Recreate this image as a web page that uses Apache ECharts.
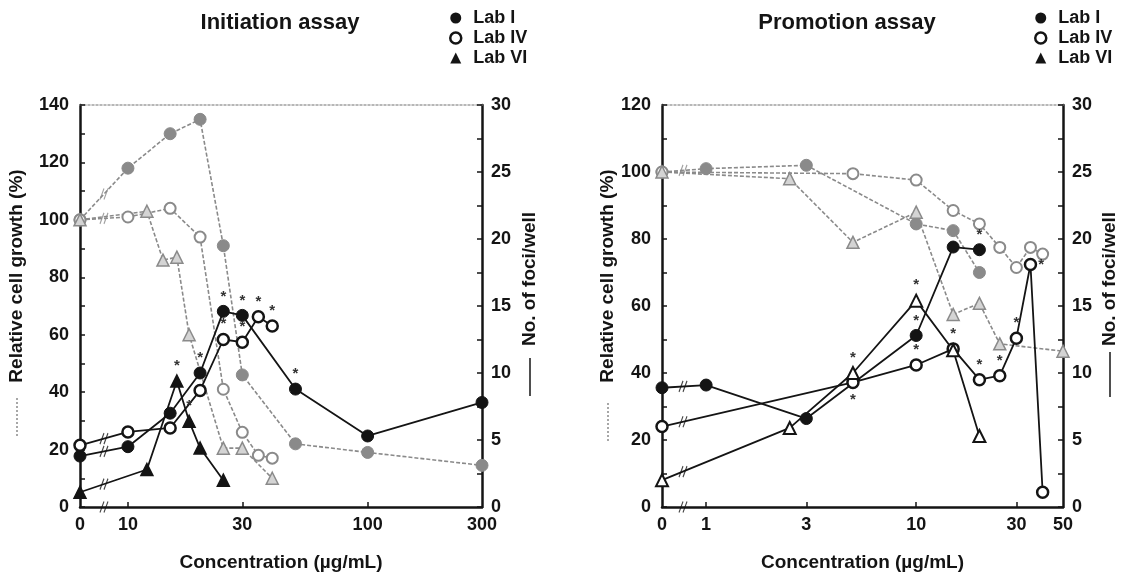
<!DOCTYPE html>
<html>
<head>
<meta charset="utf-8">
<script src="https://cdn.jsdelivr.net/npm/echarts@6/dist/echarts.min.js"></script>
<style>
  html, body { margin: 0; padding: 0; background: #fff; }
  #chart { width: 1124px; height: 578px; }
</style>
</head>
<body>
<div id="chart"></div>
<script>
// ---------- Tick labels on the broken log concentration axes ----------
const iniTicks = [0, 10, 30, 100, 300];
const proTicks = [0, 1, 3, 10, 30, 50];

// ---------- Initiation assay ----------
const iniConcLabI = [0, 10, 15, 20, 25, 30, 50, 100, 300];
const iniGrowthLabI = [100, 118, 130, 135, 91, 46, 22, 19, 14.5];
const iniFociLabI = [3.8, 4.5, 7.0, 10.0, 14.6, 14.3, 8.8, 5.3, 7.8];
const iniStarsLabI = [20, 25, 30, 50];

const iniConcLabIV = [0, 10, 15, 20, 25, 30, 35, 40];
const iniGrowthLabIV = [100, 101, 104, 94, 41, 26, 18, 17];
const iniFociLabIV = [4.6, 5.6, 5.9, 8.7, 12.5, 12.3, 14.2, 13.5];
const iniStarsLabIV = [25, 30, 35, 40];

const iniConcLabVIGrowth = [0, 12, 14, 16, 18, 25, 30, 40];
const iniGrowthLabVI = [100, 103, 86, 87, 60, 20.5, 20.5, 10];
const iniConcLabVIFoci = [0, 12, 16, 18, 20, 25];
const iniFociLabVI = [1.1, 2.8, 9.4, 6.4, 4.4, 2.0];
const iniStarsLabVI = [16, 18];

// ---------- Promotion assay ----------
const proConcLabI = [0, 1, 3, 10, 15, 20];
const proGrowthLabI = [100, 101, 102, 84.5, 82.5, 70];
const proFociLabI = [8.9, 9.1, 6.6, 12.8, 19.4, 19.2];
const proStarsLabI = [10, 20];

const proConcLabIV = [0, 5, 10, 15, 20, 25, 30, 35, 40];
const proGrowthLabIV = [100, 99.5, 97.6, 88.5, 84.5, 77.5, 71.5, 77.5, 75.5];
const proFociLabIV = [6.0, 9.3, 10.6, 11.8, 9.5, 9.8, 12.6, 18.1, 1.1];
const proStarsLabIV = [10, 15, 20, 25, 30];
const proStarsBelowLabIV = [5];
const proStarsRightLabIV = [35];

const proConcLabVIGrowth = [0, 2.5, 5, 10, 15, 20, 25, 50];
const proGrowthLabVI = [100, 98, 79, 88, 57.5, 60.8, 48.7, 46.5];
const proConcLabVIFoci = [0, 2.5, 5, 10, 15, 20];
const proFociLabVI = [2.0, 5.9, 10.0, 15.4, 11.7, 5.3];
const proStarsLabVI = [5, 10];

// ---------- Axis transform: log10 with a broken segment holding 0 ----------
const INI_ZERO = 0.8, INI_BREAK = 0.9, INI_MAX = Math.log10(300);
const PRO_ZERO = -0.21, PRO_BREAK = -0.11, PRO_MAX = Math.log10(50);
const posFn = zero => c => (c === 0 ? zero : Math.log10(c));
const iniPos = posFn(INI_ZERO);
const proPos = posFn(PRO_ZERO);

const FONT = '"Liberation Sans", Arial, sans-serif';
const INK = '#141414';
const GREY = '#8a8a8a';

function starLabel(position) {
  return { show: true, formatter: '*', position: position, distance: position === 'bottom' ? 3 : 1,
           fontSize: 15, fontWeight: 'bold', color: '#333', fontFamily: FONT };
}

function points(pos, conc, vals, stars, below, right) {
  stars = stars || []; below = below || []; right = right || [];
  return conc.map((c, i) => {
    const item = { value: [pos(c), vals[i]] };
    if (stars.includes(c)) item.label = starLabel('top');
    else if (below.includes(c)) item.label = starLabel('bottom');
    else if (right.includes(c)) item.label = starLabel('right');
    return item;
  });
}

const styles = {
  gI:   { symbol: 'circle', symbolSize: 12, itemStyle: { color: GREY, borderColor: GREY, borderWidth: 1 } },
  gIV:  { symbol: 'circle', symbolSize: 11, itemStyle: { color: '#fff', borderColor: GREY, borderWidth: 2 } },
  gVI:  { symbol: 'triangle', symbolSize: 12, itemStyle: { color: '#d4d4d4', borderColor: GREY, borderWidth: 1.5 } },
  kI:   { symbol: 'circle', symbolSize: 12, itemStyle: { color: INK, borderColor: INK, borderWidth: 1 } },
  kIV:  { symbol: 'circle', symbolSize: 11, itemStyle: { color: '#fff', borderColor: INK, borderWidth: 2.5 } },
  kVIf: { symbol: 'triangle', symbolSize: 12, itemStyle: { color: INK, borderColor: INK, borderWidth: 1.5 } },
  kVIo: { symbol: 'triangle', symbolSize: 12, itemStyle: { color: '#fff', borderColor: INK, borderWidth: 2 } }
};

function growthSeries(name, xi, yi, data, st) {
  return Object.assign({
    name: name, type: 'line', xAxisIndex: xi, yAxisIndex: yi, data: data, z: 2,
    showAllSymbol: true,
    lineStyle: { color: GREY, width: 1.6, type: [4, 2] },
    emphasis: { disabled: true }
  }, JSON.parse(JSON.stringify(st)));
}
function fociSeries(name, xi, yi, data, st) {
  return Object.assign({
    name: name, type: 'line', xAxisIndex: xi, yAxisIndex: yi, data: data, z: 4,
    showAllSymbol: true,
    lineStyle: { color: INK, width: 1.8 },
    emphasis: { disabled: true }
  }, JSON.parse(JSON.stringify(st)));
}

// "//" marks where each line crosses the axis break
function breakPoints(pos, zero, brk, conc, vals) {
  const x1 = pos(conc[1]);
  const t = (brk - zero) / (x1 - zero);
  return [[brk, vals[0] + (vals[1] - vals[0]) * t]];
}
const BREAK_SYMBOL = 'path://M0,12 L4,0 M4,12 L8,0';
function breakSeries(xi, yi, data, color) {
  return {
    type: 'scatter', xAxisIndex: xi, yAxisIndex: yi, data: data, z: 6,
    symbol: BREAK_SYMBOL, symbolSize: [8, 11], silent: true,
    itemStyle: { color: 'rgba(0,0,0,0)', borderColor: color, borderWidth: 1.3 }
  };
}

function xAxisPair(gridIndex, zero, max, ticks, pos) {
  const tickPos = ticks.map(pos);
  return [{
    type: 'value', gridIndex: gridIndex, position: 'bottom', min: zero, max: max,
    axisLine: { show: true, onZero: false, lineStyle: { color: INK, width: 2.5 } },
    axisTick: { show: true, inside: true, length: 5, lineStyle: { color: INK, width: 1.5 },
                customValues: tickPos.slice(1, -1) },
    axisLabel: {
      customValues: tickPos, margin: 9, color: INK, fontSize: 18, fontWeight: 'bold', fontFamily: FONT,
      formatter: v => {
        const k = tickPos.findIndex(p => Math.abs(p - v) < 1e-6);
        return k >= 0 ? String(ticks[k]) : '';
      }
    },
    splitLine: { show: false },
    name: 'Concentration (µg/mL)', nameLocation: 'middle', nameGap: 46,
    nameTextStyle: { color: INK, fontSize: 19, fontWeight: 'bold', fontFamily: FONT }
  }, {
    type: 'value', gridIndex: gridIndex, position: 'top', min: zero, max: max,
    axisLine: { show: true, onZero: false, lineStyle: { color: '#a0a0a0', width: 1.5, type: [2, 2] } },
    axisTick: { show: false }, axisLabel: { show: false }, splitLine: { show: false }
  }];
}

function yAxis(gridIndex, position, max, interval) {
  return {
    type: 'value', gridIndex: gridIndex, position: position, min: 0, max: max, interval: interval,
    axisLine: { show: true, onZero: false, lineStyle: { color: INK, width: 2.5 } },
    axisTick: { show: true, inside: true, length: 5, lineStyle: { color: INK, width: 1.5 } },
    minorTick: { show: true, splitNumber: 2, length: 5, lineStyle: { color: INK, width: 1.5 } },
    axisLabel: { margin: position === 'left' ? 11 : 9, color: INK, fontSize: 18, fontWeight: 'bold', fontFamily: FONT },
    splitLine: { show: false }
  };
}

function legendFor(left) {
  return {
    left: left, top: 4, orient: 'vertical', itemGap: 2, itemWidth: 11, itemHeight: 11,
    selectedMode: false,
    textStyle: { color: INK, fontSize: 18, fontWeight: 'bold', fontFamily: FONT, padding: [0, 0, 0, 7] },
    data: [
      { name: 'Lab I', icon: 'circle', itemStyle: { color: INK, borderWidth: 0 } },
      { name: 'Lab IV', icon: 'circle', itemStyle: { color: '#fff', borderColor: INK, borderWidth: 2.5 } },
      { name: 'Lab VI', icon: 'triangle', itemStyle: { color: INK, borderWidth: 0 } }
    ]
  };
}

function vText(x, y, text) {
  return { type: 'text', x: x, y: y, rotation: Math.PI / 2, silent: true,
           style: { text: text, fill: INK, font: 'bold 19px ' + FONT, align: 'center', verticalAlign: 'middle' } };
}
function vLine(x, y1, y2, dashed) {
  return { type: 'line', silent: true, shape: { x1: x, y1: y1, x2: x, y2: y2 },
           style: dashed ? { stroke: GREY, lineWidth: 1.5, lineDash: [2, 2] } : { stroke: INK, lineWidth: 1.5 } };
}

const series = [
  // Initiation: relative cell growth (grey, dashed)
  growthSeries('Lab I growth (initiation)', 0, 0, points(iniPos, iniConcLabI, iniGrowthLabI), styles.gI),
  growthSeries('Lab IV growth (initiation)', 0, 0, points(iniPos, iniConcLabIV, iniGrowthLabIV), styles.gIV),
  growthSeries('Lab VI growth (initiation)', 0, 0, points(iniPos, iniConcLabVIGrowth, iniGrowthLabVI), styles.gVI),
  // Initiation: foci per well (black, solid)
  fociSeries('Lab I', 0, 1, points(iniPos, iniConcLabI, iniFociLabI, iniStarsLabI), styles.kI),
  fociSeries('Lab IV', 0, 1, points(iniPos, iniConcLabIV, iniFociLabIV, iniStarsLabIV), styles.kIV),
  fociSeries('Lab VI', 0, 1, points(iniPos, iniConcLabVIFoci, iniFociLabVI, iniStarsLabVI), styles.kVIf),
  // Promotion: relative cell growth
  growthSeries('Lab I growth (promotion)', 2, 2, points(proPos, proConcLabI, proGrowthLabI), styles.gI),
  growthSeries('Lab IV growth (promotion)', 2, 2, points(proPos, proConcLabIV, proGrowthLabIV), styles.gIV),
  growthSeries('Lab VI growth (promotion)', 2, 2, points(proPos, proConcLabVIGrowth, proGrowthLabVI), styles.gVI),
  // Promotion: foci per well
  fociSeries('Lab I', 2, 3, points(proPos, proConcLabI, proFociLabI, proStarsLabI), styles.kI),
  fociSeries('Lab IV', 2, 3, points(proPos, proConcLabIV, proFociLabIV, proStarsLabIV, proStarsBelowLabIV, proStarsRightLabIV), styles.kIV),
  fociSeries('Lab VI', 2, 3, points(proPos, proConcLabVIFoci, proFociLabVI, proStarsLabVI), styles.kVIo),
  // axis-break marks
  breakSeries(0, 0, [].concat(
    breakPoints(iniPos, INI_ZERO, INI_BREAK, iniConcLabI, iniGrowthLabI),
    breakPoints(iniPos, INI_ZERO, INI_BREAK, iniConcLabIV, iniGrowthLabIV),
    [[INI_BREAK, 0]]), GREY),
  breakSeries(0, 1, [].concat(
    breakPoints(iniPos, INI_ZERO, INI_BREAK, iniConcLabI, iniFociLabI),
    breakPoints(iniPos, INI_ZERO, INI_BREAK, iniConcLabIV, iniFociLabIV),
    breakPoints(iniPos, INI_ZERO, INI_BREAK, iniConcLabVIFoci, iniFociLabVI)), INK),
  breakSeries(2, 2, [].concat(
    breakPoints(proPos, PRO_ZERO, PRO_BREAK, proConcLabI, proGrowthLabI)), GREY),
  breakSeries(2, 3, [].concat(
    breakPoints(proPos, PRO_ZERO, PRO_BREAK, proConcLabI, proFociLabI),
    breakPoints(proPos, PRO_ZERO, PRO_BREAK, proConcLabIV, proFociLabIV),
    breakPoints(proPos, PRO_ZERO, PRO_BREAK, proConcLabVIFoci, proFociLabVI)), INK),
  breakSeries(2, 2, [[PRO_BREAK, 0]], INK)
];
// the axis-line breaks are black
series[12].data[series[12].data.length - 1] = { value: [INI_BREAK, 0], itemStyle: { borderColor: INK } };

const option = {
  animation: false,
  backgroundColor: '#fff',
  textStyle: { fontFamily: FONT },
  title: [
    { text: 'Initiation assay', left: 275, top: 7, textAlign: 'center',
      textStyle: { color: INK, fontSize: 22, fontWeight: 'bold', fontFamily: FONT } },
    { text: 'Promotion assay', left: 842, top: 7, textAlign: 'center',
      textStyle: { color: INK, fontSize: 22, fontWeight: 'bold', fontFamily: FONT } }
  ],
  legend: [legendFor(444), legendFor(1029)],
  grid: [
    { left: 80, top: 105, width: 402, height: 402, containLabel: false },
    { left: 662, top: 105, width: 401, height: 402, containLabel: false }
  ],
  xAxis: [].concat(
    xAxisPair(0, INI_ZERO, INI_MAX, iniTicks, iniPos),
    xAxisPair(1, PRO_ZERO, PRO_MAX, proTicks, proPos)
  ),
  yAxis: [
    yAxis(0, 'left', 140, 20),
    yAxis(0, 'right', 30, 5),
    yAxis(1, 'left', 120, 20),
    yAxis(1, 'right', 30, 5)
  ],
  series: series,
  graphic: [
    vText(17, 276, 'Relative cell growth (%)'), vLine(17, 398, 438, true),
    vText(530, 279, 'No. of foci/well'), vLine(530, 358, 396, false),
    vText(608, 276, 'Relative cell growth (%)'), vLine(608, 403, 441, true),
    vText(1110, 279, 'No. of foci/well'), vLine(1110, 352, 397, false)
  ]
};

const chart = echarts.init(document.getElementById('chart'), null, { renderer: 'canvas' });
chart.setOption(option);
</script>
</body>
</html>
